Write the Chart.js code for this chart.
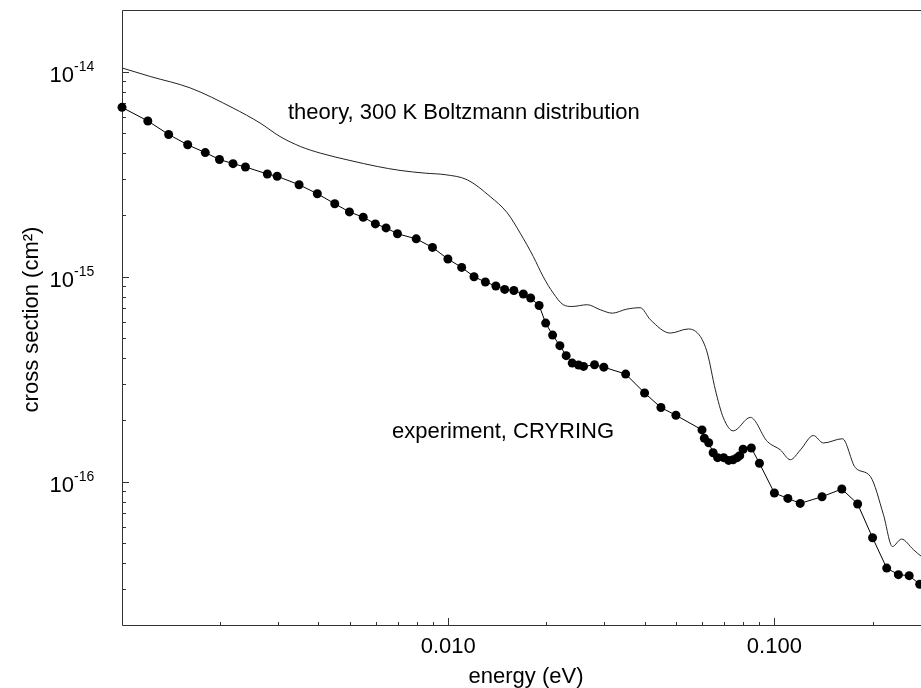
<!DOCTYPE html>
<html>
<head>
<meta charset="utf-8">
<script src="https://cdn.jsdelivr.net/npm/chart.js@4"></script>
<style>
  html, body { margin: 0; padding: 0; background: #fff; overflow: hidden; }
  #wrap { width: 921px; height: 688px; overflow: hidden; }
</style>
</head>
<body>
<div id="wrap"><canvas id="xsChart" width="960" height="688"></canvas></div>
<script>
 // experiment, CRYRING (energy in eV, cross section in cm^2)
 const expEnergy = [0.00100, 0.00120, 0.00139, 0.00159, 0.00180, 0.00199, 0.00219, 0.00239, 0.00279, 0.00299,
                    0.00349, 0.00397, 0.00449, 0.00498, 0.00549, 0.00598, 0.00645, 0.00699, 0.00798, 0.00895,
                    0.00998, 0.0110, 0.0120, 0.0130, 0.0140, 0.0149, 0.0159, 0.0170, 0.0179, 0.0190,
                    0.0199, 0.0209, 0.0220, 0.0230, 0.0240, 0.0251, 0.0260, 0.0281, 0.0300, 0.0350,
                    0.0400, 0.0449, 0.0499, 0.0600, 0.0610, 0.0629, 0.0649, 0.0670, 0.0699, 0.0724,
                    0.0747, 0.0769, 0.0783, 0.0802, 0.0850, 0.0900, 0.100, 0.110, 0.120, 0.140,
                    0.161, 0.180, 0.200, 0.221, 0.240, 0.259, 0.279];
 const expSigma = [6.70e-15, 5.75e-15, 4.94e-15, 4.40e-15, 4.03e-15, 3.73e-15, 3.56e-15, 3.43e-15, 3.17e-15, 3.09e-15,
                   2.81e-15, 2.54e-15, 2.27e-15, 2.07e-15, 1.95e-15, 1.81e-15, 1.73e-15, 1.62e-15, 1.53e-15, 1.39e-15,
                   1.22e-15, 1.11e-15, 1.00e-15, 9.42e-16, 9.01e-16, 8.67e-16, 8.57e-16, 8.23e-16, 7.87e-16, 7.24e-16,
                   5.94e-16, 5.19e-16, 4.61e-16, 4.12e-16, 3.79e-16, 3.71e-16, 3.65e-16, 3.72e-16, 3.62e-16, 3.35e-16,
                   2.71e-16, 2.30e-16, 2.11e-16, 1.79e-16, 1.63e-16, 1.55e-16, 1.385e-16, 1.31e-16, 1.31e-16, 1.27e-16,
                   1.28e-16, 1.31e-16, 1.34e-16, 1.44e-16, 1.46e-16, 1.23e-16, 8.81e-17, 8.29e-17, 7.84e-17, 8.45e-17,
                   9.21e-17, 7.79e-17, 5.33e-17, 3.79e-17, 3.52e-17, 3.48e-17, 3.16e-17];

 // theory, 300 K Boltzmann distribution
 const theoryEnergy = [0.00100, 0.00122, 0.00162, 0.00219, 0.00265, 0.00305, 0.00352, 0.00405, 0.00500, 0.00606,
                       0.00712, 0.00850, 0.00979, 0.01144, 0.01345, 0.01517, 0.01663, 0.01823, 0.01956, 0.02099,
                       0.02253, 0.02399, 0.02669, 0.02926, 0.03185, 0.03516, 0.03881, 0.04166, 0.04797, 0.05448,
                       0.05929, 0.06230, 0.06592, 0.06976, 0.07482, 0.08443, 0.09517, 0.1043, 0.1119, 0.1202,
                       0.1317, 0.1413, 0.1617, 0.1772, 0.1970, 0.2160, 0.2301, 0.2452, 0.2670, 0.2825, 0.300];
 const theorySigma = [1.043e-14, 9.48e-15, 8.33e-15, 6.65e-15, 5.62e-15, 4.83e-15, 4.32e-15, 4.01e-15, 3.69e-15, 3.45e-15,
                      3.30e-15, 3.20e-15, 3.145e-15, 2.97e-15, 2.46e-15, 2.05e-15, 1.63e-15, 1.256e-15, 1.00e-15, 8.32e-16,
                      7.30e-16, 7.16e-16, 7.30e-16, 6.90e-16, 6.64e-16, 6.94e-16, 7.06e-16, 6.17e-16, 5.31e-16, 5.56e-16,
                      5.11e-16, 4.24e-16, 2.81e-16, 2.05e-16, 1.77e-16, 2.06e-16, 1.57e-16, 1.43e-16, 1.28e-16, 1.43e-16,
                      1.68e-16, 1.545e-16, 1.62e-16, 1.17e-16, 1.06e-16, 6.90e-17, 4.83e-17, 5.25e-17, 4.66e-17, 4.32e-17, 4.10e-17];

 const xMajorTicks = [0.001, 0.01, 0.1];
 const xTickLabels = ['', '0.010', '0.100'];
 const yMajorTicks = [1e-14, 1e-15, 1e-16];
 const yTickExponents = ['-14', '-15', '-16'];

 const xMin = 0.001, xMax = 0.3;
 const yMin = 2e-17, yMax = 2e-14;

 function toPoint(value, index) {
    return ({x: value, y: this[index]});
 }

 const expData = expEnergy.map(toPoint, expSigma);
 const theoryData = theoryEnergy.map(toPoint, theorySigma);

 // minor tick positions 2..9 inside each decade
 function minorTicks(decades, lo, hi) {
    const out = [];
    decades.forEach(d => {
       for (let k = 2; k <= 9; k++) {
          const v = d * k;
          if (v > lo && v < hi) out.push(v);
       }
    });
    return out;
 }
 const xMinor = minorTicks([0.001, 0.01, 0.1], xMin, xMax);
 const yMinor = minorTicks([1e-17, 1e-16, 1e-15, 1e-14], yMin, yMax);

 const FONT = '"Liberation Sans", Arial, Helvetica, sans-serif';

 const framePlugin = {
    id: 'frame',
    beforeDatasetsDraw(chart) {
       const ctx = chart.ctx, a = chart.chartArea;
       const xs = chart.scales.x, ys = chart.scales.y;
       ctx.save();
       ctx.strokeStyle = '#333';
       ctx.lineWidth = 1;
       ctx.beginPath();
       ctx.moveTo(a.left + 0.5, a.top + 0.5);
       ctx.lineTo(a.left + 0.5, a.bottom + 0.5);
       ctx.lineTo(a.right - 0.5, a.bottom + 0.5);
       ctx.lineTo(a.right - 0.5, a.top + 0.5);
       ctx.closePath();
       xMajorTicks.forEach(v => {
          const px = Math.round(xs.getPixelForValue(v)) + 0.5;
          ctx.moveTo(px, a.bottom); ctx.lineTo(px, a.bottom - 7);
       });
       xMinor.forEach(v => {
          const px = Math.round(xs.getPixelForValue(v)) + 0.5;
          ctx.moveTo(px, a.bottom); ctx.lineTo(px, a.bottom - 3);
       });
       yMajorTicks.forEach(v => {
          const py = Math.round(ys.getPixelForValue(v)) + 0.5;
          ctx.moveTo(a.left, py); ctx.lineTo(a.left + 7, py);
       });
       yMinor.forEach(v => {
          const py = Math.round(ys.getPixelForValue(v)) + 0.5;
          ctx.moveTo(a.left, py); ctx.lineTo(a.left + 4, py);
       });
       ctx.stroke();
       ctx.restore();
    },
    afterDraw(chart) {
       const ctx = chart.ctx, a = chart.chartArea;
       const xs = chart.scales.x, ys = chart.scales.y;
       ctx.save();
       ctx.fillStyle = '#000';
       ctx.textBaseline = 'alphabetic';

       // x tick labels
       ctx.font = '22px ' + FONT;
       ctx.textAlign = 'center';
       xMajorTicks.forEach((v, i) => {
          if (xTickLabels[i]) ctx.fillText(xTickLabels[i], xs.getPixelForValue(v), a.bottom + 28);
       });

       // y tick labels 10^n
       yMajorTicks.forEach((v, i) => {
          const py = ys.getPixelForValue(v);
          ctx.font = '22px ' + FONT;
          ctx.textAlign = 'right';
          ctx.fillText('10', 74, py + 10);
          ctx.font = '14px ' + FONT;
          ctx.textAlign = 'left';
          ctx.fillText(yTickExponents[i], 74, py - 1);
       });

       // axis titles
       ctx.font = '22px ' + FONT;
       ctx.textAlign = 'center';
       ctx.fillText('energy (eV)', (a.left + a.right) / 2, 683);
       ctx.save();
       ctx.translate(38, (a.top + a.bottom) / 2 + 2);
       ctx.rotate(-Math.PI / 2);
       ctx.fillText('cross section (cm\u00B2)', 0, 0);
       ctx.restore();

       // curve annotations
       ctx.font = '22px ' + FONT;
       ctx.textAlign = 'left';
       ctx.fillText('theory, 300 K Boltzmann distribution', 288, 119);
       ctx.fillText('experiment, CRYRING', 392, 438);
       ctx.restore();
    }
 };

 const chartData = {
    datasets: [{
         label: 'theory, 300 K Boltzmann distribution',
         data: theoryData,
         showLine: true,
         borderColor: '#222',
         borderWidth: 1,
         pointRadius: 0,
         cubicInterpolationMode: 'monotone',
         clip: false
      },{
         label: 'experiment, CRYRING',
         data: expData,
         showLine: true,
         borderColor: '#000',
         backgroundColor: '#000',
         borderWidth: 1,
         pointRadius: 4.5,
         pointBorderWidth: 0,
         clip: false
      }
    ]
 };

 const config = {
    type: 'scatter',
    data: chartData,
    options: {
      responsive: false,
      animation: false,
      layout: {
         padding: {left: 122, top: 10, right: 30, bottom: 63}
      },
      scales: {
         x: {
           type: 'logarithmic',
           display: false,
           min: xMin,
           max: xMax
         },
         y: {
           type: 'logarithmic',
           display: false,
           min: yMin,
           max: yMax
         }
      },
      plugins: {
         legend: { display: false },
         tooltip: { enabled: false }
      }
    },
    plugins: [framePlugin]
 };

 const xsChart = new Chart(
    document.getElementById('xsChart'),
    config
 );
</script>
</body>
</html>
